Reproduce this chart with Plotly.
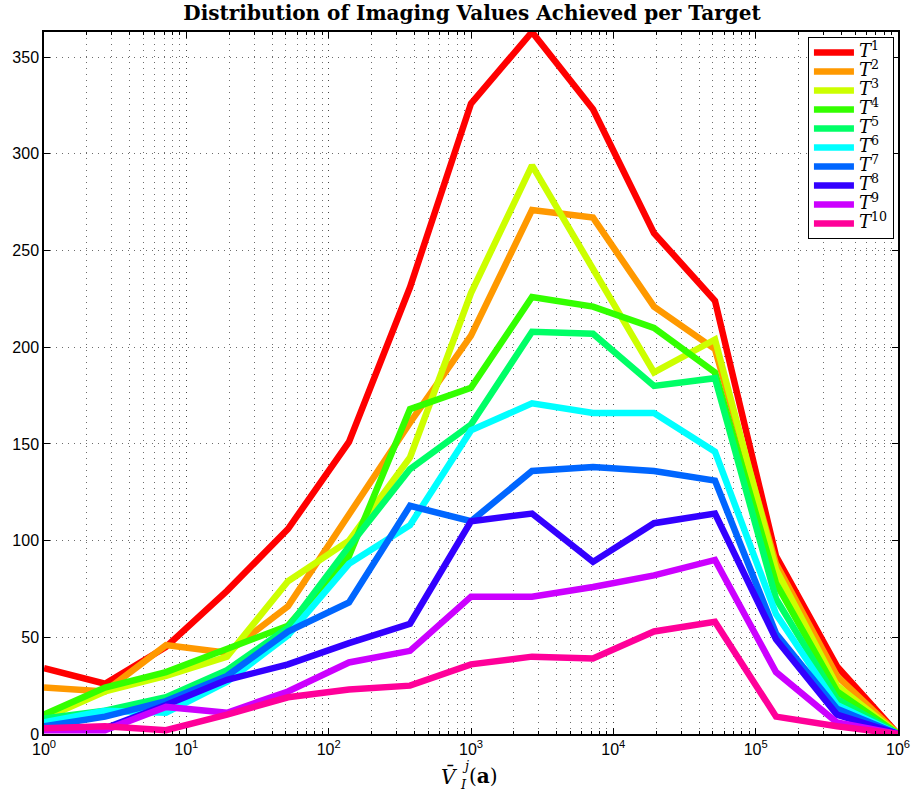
import numpy as np
import plotly.graph_objects as go

# Bin centres of the imaging value histogram (log-spaced, 10^0 .. 10^6)
x_bins = [1, 2.683, 7.197, 19.31, 51.79, 138.9, 372.8, 1000,
          2683, 7197, 19307, 51795, 138950, 372759, 1000000]

t1 = [34, 26, 45, 74, 106, 151, 231, 326, 363, 323, 259, 224, 92, 35, 0]
t2 = [24, 22, 46, 42, 66, 113, 161, 206, 271, 267, 221, 199, 88, 30, 0]
t3 = [8, 22, 30, 40, 79, 100, 143, 228, 294, 241, 187, 204, 85, 25, 0]
t4 = [10, 24, 32, 44, 56, 92, 168, 179, 226, 221, 210, 187, 78, 22, 0]
t5 = [8, 12, 19, 33, 55, 97, 137, 160, 208, 207, 180, 184, 70, 18, 0]
t6 = [6, 12, 11, 27, 51, 88, 108, 157, 171, 166, 166, 146, 62, 15, 0]
t7 = [4, 9, 17, 30, 53, 68, 118, 110, 136, 138, 136, 131, 52, 13, 0]
t8 = [3, 3, 15, 28, 36, 47, 57, 110, 114, 89, 109, 114, 49, 10, 0]
t9 = [2, 2, 14, 11, 22, 37, 43, 71, 71, 76, 82, 90, 32, 6, 0]
t10 = [3, 4, 2, 10, 19, 23, 25, 36, 40, 39, 53, 58, 9, 4, 0]

series = [t1, t2, t3, t4, t5, t6, t7, t8, t9, t10]
colors = ["#ff0000", "#ff9900", "#ccff00", "#33ff00", "#00ff66",
          "#00ffff", "#0066ff", "#3300ff", "#cc00ff", "#ff0099"]
names = [f'<span style="font-size:18px"><i>T</i><sup>{k}</sup></span>' for k in range(1, 11)]

y_ticks = [0, 50, 100, 150, 200, 250, 300, 350]
x_ticks = [1, 10, 100, 1000, 10000, 100000, 1000000]
x_ticklabels = [f"10<sup>{k}</sup>" for k in range(7)]

W, H = 922, 796
ML, MR, MT, MB = 43, 16, 32, 62

fig = go.Figure()
for vals, col, nm in zip(series, colors, names):
    fig.add_trace(go.Scatter(x=x_bins, y=vals, mode="lines", name=nm,
                             line=dict(color=col, width=6.5)))

grid_col = "rgba(60,60,60,0.75)"
grid_dash = "1px,5px"
tick_font = dict(family="Liberation Sans, Arial, sans-serif", size=16, color="black")
serif = "DejaVu Serif, Liberation Serif, serif"


def paper_xy(px, py):
    """Convert page pixel position to paper coordinates."""
    return (px - ML) / (W - ML - MR), (H - MB - py) / (H - MT - MB)


leg_x, leg_y = paper_xy(815, 37)

fig.update_layout(
    width=W, height=H,
    margin=dict(l=ML, r=MR, t=MT, b=MB),
    paper_bgcolor="white", plot_bgcolor="white",
    title=dict(text="<b>Distribution of Imaging Values Achieved per Target</b>",
               x=0.512, xanchor="center", y=0.984, yanchor="middle",
               font=dict(family=serif, size=20, color="black")),
    showlegend=True,
    legend=dict(x=leg_x, y=leg_y, xanchor="left", yanchor="top",
                bgcolor="white", bordercolor="black", borderwidth=1,
                font=dict(family=serif, size=12, color="black"),
                tracegroupgap=0, itemwidth=40),
    xaxis=dict(type="log", range=[0, 6], tickvals=x_ticks, ticktext=x_ticklabels,
               ticks="inside", ticklen=6, tickcolor="black", mirror="allticks",
               showline=True, linecolor="black", linewidth=1.5,
               showgrid=True, gridcolor=grid_col, griddash=grid_dash, gridwidth=1,
               tickfont=tick_font, zeroline=False,
               minor=dict(dtick="D1", ticks="inside", ticklen=3, tickcolor="black",
                          showgrid=True, gridcolor=grid_col, griddash=grid_dash, gridwidth=1)),
    yaxis=dict(range=[0, 363], tickvals=y_ticks,
               ticks="inside", ticklen=6, tickcolor="black", mirror="allticks",
               showline=True, linecolor="black", linewidth=1.5,
               showgrid=True, gridcolor=grid_col, griddash=grid_dash, gridwidth=1,
               tickfont=tick_font, zeroline=False),
)

# x-axis label: V-bar with stacked sub/superscript, followed by (a)
label_parts = [
    ("<i>V̄</i>", 463, 776, "right", 20),
    ("<i>j</i>", 463, 766, "left", 13),
    ("<i>I</i>", 461, 784, "left", 13),
    ("(<b>a</b>)", 470, 776, "left", 20),
]
for txt, px, py, anchor, sz in label_parts:
    ax_, ay_ = paper_xy(px, py)
    fig.add_annotation(text=txt, xref="paper", yref="paper", x=ax_, y=ay_,
                       xanchor=anchor, yanchor="middle", showarrow=False,
                       font=dict(family=serif, size=sz, color="black"))

fig.write_html("out.html")
